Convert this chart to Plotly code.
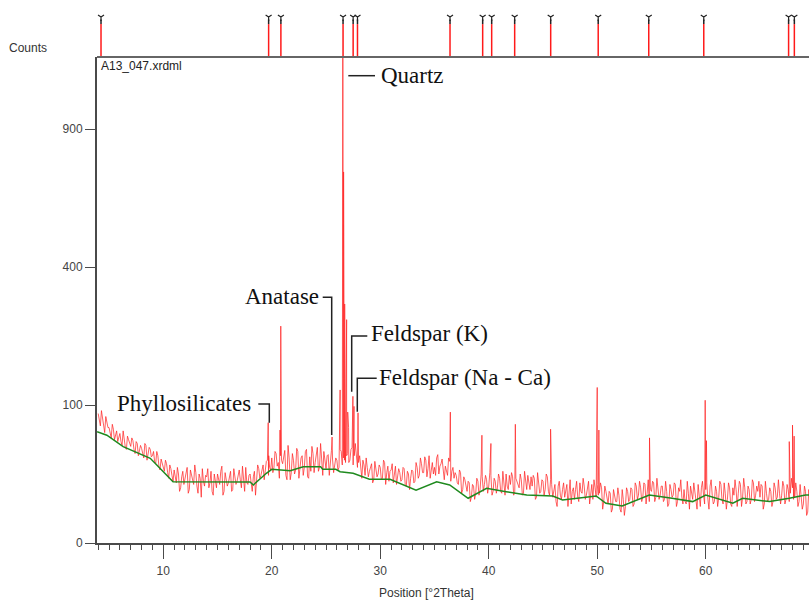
import numpy as np
import plotly.graph_objects as go

# ---------------- data ----------------
# scan counts at 4.0, 4.2, 4.4 ... (even) and 4.1, 4.3, 4.5 ... (odd)
scan_start = 4.0
scan_step = 0.2
scan_counts_even = [
    88, 72, 80, 64, 76,   # 4
    70, 58, 68, 62, 54,   # 5
    63, 50, 58, 46, 56,   # 6
    49, 55, 42, 52, 44,   # 7
    47, 38, 50, 41, 46,   # 8
    40, 35, 44, 31, 37,   # 9
    30, 36, 26, 32, 24,   # 10
    28, 19, 25, 16, 27,   # 11
    21, 30, 15, 24, 18,   # 12
    26, 13, 22, 29, 17,   # 13
    23, 16, 27, 12, 21,   # 14
    25, 18, 31, 14, 22,   # 15
    19, 27, 15, 24, 20,   # 16
    28, 16, 23, 30, 18,   # 17
    25, 14, 27, 21, 29,   # 18
    24, 32, 26, 36, 30,   # 19
    38, 30, 42, 34, 40,   # 20
    33, 45, 21, 38, 26,   # 21
    36, 28, 44, 31, 40,   # 22
    30, 46, 22, 27, 42,   # 23
    34, 48, 30, 39, 44,   # 24
    29, 41, 33, 37, 31,   # 25
    36, 30, 44, 38, 34,   # 26
    42, 36, 48, 40, 38,   # 27
    34, 28, 36, 24, 30,   # 28
    27, 33, 21, 29, 25,   # 29
    30, 22, 34, 26, 20,   # 30
    28, 19, 31, 23, 26,   # 31
    21, 29, 17, 25, 22,   # 32
    27, 20, 30, 24, 33,   # 33
    26, 36, 29, 22, 34,   # 34
    30, 38, 25, 33, 28,   # 35
    31, 24, 35, 27, 22,   # 36
    24, 18, 26, 15, 21,   # 37
    14, 19, 11, 17, 13,   # 38
    20, 15, 23, 18, 21,   # 39
    17, 24, 14, 20, 16,   # 40
    22, 13, 19, 25, 15,   # 41
    18, 23, 14, 20, 16,   # 42
    21, 13, 19, 24, 15,   # 43
    17, 22, 11, 19, 14,   # 44
    20, 15, 23, 12, 18,   # 45
    14, 9, 17, 12, 15,    # 46
    11, 18, 13, 8, 16,    # 47
    15, 11, 19, 13, 17,   # 48
    12, 20, 14, 10, 16,   # 49
    18, 13, 16, 9, 14,    # 50
    8, 13, 6, 11, 9,      # 51
    12, 5, 10, 7, 14,     # 52
    10, 15, 8, 17, 12,    # 53
    16, 11, 18, 13, 9,    # 54
    14, 19, 11, 16, 12,   # 55
    17, 10, 14, 8, 15,    # 56
    12, 18, 9, 14, 11,    # 57
    15, 8, 13, 17, 10,    # 58
    13, 6, 11, 16, 12,    # 59
    15, 10, 17, 12, 9,    # 60
    14, 11, 18, 8, 13,    # 61
    10, 16, 7, 12, 15,    # 62
    13, 18, 11, 16, 9,    # 63
    15, 10, 19, 12, 14,   # 64
    11, 17, 8, 13, 10,    # 65
    14, 9, 16, 11, 13,    # 66
    12, 17, 10, 15, 13,   # 67
    16, 11, 14, 9, 12,    # 68
    8, 14, 5, 11, 7,      # 69
]
scan_counts_odd = [
    78, 92, 68, 84, 70,   # 4
    62, 74, 56, 66, 60,   # 5
    54, 66, 48, 60, 52,   # 6
    58, 46, 54, 40, 50,   # 7
    42, 52, 36, 48, 39,   # 8
    44, 33, 40, 28, 34,   # 9
    27, 33, 22, 29, 20,   # 10
    22, 30, 14, 23, 18,   # 11
    26, 13, 28, 20, 32,   # 12
    17, 25, 11, 20, 24,   # 13
    29, 19, 14, 25, 16,   # 14
    20, 27, 12, 26, 17,   # 15
    23, 14, 29, 18, 25,   # 16
    21, 31, 14, 19, 24,   # 17
    18, 23, 12, 32, 22,   # 18
    27, 21, 35, 24, 28,   # 19
    26, 44, 31, 22, 36,   # 20
    40, 24, 50, 21, 42,   # 21
    25, 47, 22, 38, 24,   # 22
    44, 23, 39, 49, 26,   # 23
    43, 27, 52, 24, 36,   # 24
    40, 24, 45, 26, 38,   # 25
    28, 46, 32, 36, 40,   # 26
    34, 46, 32, 52, 30,   # 27
    40, 22, 32, 38, 23,   # 28
    31, 19, 35, 23, 32,   # 29
    21, 36, 18, 31, 27,   # 30
    33, 24, 18, 29, 20,   # 31
    30, 18, 27, 15, 28,   # 32
    19, 34, 22, 38, 26,   # 33
    39, 23, 40, 30, 25,   # 34
    24, 41, 31, 37, 21,   # 35
    26, 38, 20, 30, 26,   # 36
    19, 28, 13, 23, 17,   # 37
    20, 9, 18, 10, 22,    # 38
    12, 25, 14, 24, 13,   # 39
    26, 12, 22, 13, 25,   # 40
    14, 27, 12, 17, 24,   # 41
    26, 12, 22, 17, 25,   # 42
    12, 27, 15, 20, 23,   # 43
    24, 10, 26, 13, 21,   # 44
    12, 25, 14, 21, 11,   # 45
    18, 7, 20, 10, 19,    # 46
    16, 7, 21, 14, 10,    # 47
    20, 9, 14, 22, 10,    # 48
    17, 8, 18, 21, 11,    # 49
    12, 19, 6, 17, 10,    # 50
    14, 5, 15, 9, 16,     # 51
    6, 15, 4, 16, 9,      # 52
    16, 7, 19, 10, 20,    # 53
    9, 19, 8, 21, 15,     # 54
    20, 9, 22, 10, 17,    # 55
    9, 20, 7, 18, 11,     # 56
    19, 7, 16, 21, 8,     # 57
    9, 20, 6, 12, 19,     # 58
    8, 18, 7, 20, 8,      # 59
    19, 6, 21, 8, 17,     # 60
    7, 20, 10, 19, 6,     # 61
    19, 8, 16, 21, 7,     # 62
    20, 7, 22, 8, 17,     # 63
    8, 21, 9, 17, 20,     # 64
    18, 6, 20, 9, 16,     # 65
    7, 19, 10, 21, 8,     # 66
    20, 8, 18, 9, 22,     # 67
    10, 19, 7, 18, 6,     # 68
    17, 4, 15, 3, 13,     # 69
]

peak_pos = [19.67, 19.72, 20.76, 20.83, 20.88, 25.56, 26.30, 26.55, 26.62,
            26.72, 26.90, 27.00, 27.08, 27.48, 27.58, 27.95, 36.46, 39.37,
            40.20, 42.45, 45.70, 50.00, 50.15, 54.82, 59.95, 60.07, 67.70,
            68.00, 68.15]
peak_counts = [76, 40, 67, 247, 60, 59, 123, 1400, 723,
               300, 262, 90, 70, 113, 98, 89, 90, 61,
               52, 74, 68, 127, 67, 58, 107, 55, 54,
               73, 60]

bg_pos = [3.9, 4.8, 6.3, 7.85, 8.8, 9.4, 10.9, 18.0, 18.3, 19.5, 20.0, 21.7,
          22.9, 24.5, 24.7, 25.9, 26.3, 27.5, 29.0, 30.9, 33.3, 35.2, 36.4,
          38.1, 39.8, 41.6, 43.5, 45.9, 46.8, 49.9, 50.8, 52.3, 54.8, 56.9,
          58.8, 60.0, 62.5, 63.4, 65.9, 67.7, 69.2, 69.6]
bg_counts = [65, 61, 48.7, 41.6, 37.7, 32, 19.7, 19.5, 17.7, 25.5, 28.5, 27.5,
             30.6, 30.6, 28.5, 28.5, 26.7, 25.5, 21.3, 21.3, 14.7, 19.7, 17.7,
             10.5, 15.7, 13.8, 12.1, 11.6, 9.7, 11.6, 8.3, 7.2, 12.1, 10.5,
             9.0, 12.1, 8.3, 10.5, 9.0, 10.5, 12.1, 12.1]

ref_pos = [4.26, 19.71, 20.84, 26.57, 27.50, 27.90, 36.43, 39.44, 40.27,
           42.39, 45.71, 50.09, 54.75, 59.82, 67.64, 68.17]

y_ticks = [0, 100, 400, 900]
labels = ["Quartz", "Anatase", "Feldspar (K)", "Feldspar (Na - Ca)", "Phyllosilicates"]

# ---------------- build ----------------
pos_even = scan_start + scan_step * np.arange(len(scan_counts_even))
pos_odd = scan_start + scan_step / 2 + scan_step * np.arange(len(scan_counts_odd))
all_pos = np.concatenate([pos_even, pos_odd, peak_pos])
all_cnt = np.concatenate([scan_counts_even, scan_counts_odd, peak_counts]).astype(float)
order = np.argsort(all_pos)
all_pos, all_cnt = all_pos[order], all_cnt[order]

X0, X1 = 3.89, 69.52
PX_L, PX_R = 97, 809
PY_B, PY_T = 543, 57
SQ_PER_PX = 1 / 13.8
Y1 = (PY_B - PY_T) * SQ_PER_PX
FIG_T = 10
H = 601
total_h = PY_B - FIG_T
main_top = (PY_B - PY_T) / total_h


def px2x(px):
    return X0 + (px - PX_L) * (X1 - X0) / (PX_R - PX_L)


def py2y(py):
    return (PY_B - py) * SQ_PER_PX


fig = go.Figure()
fig.add_trace(go.Scatter(x=all_pos, y=np.sqrt(all_cnt), mode="lines",
                         line=dict(color="rgba(255,35,35,0.72)", width=1),
                         xaxis="x", yaxis="y", showlegend=False))
fig.add_trace(go.Scatter(x=bg_pos, y=np.sqrt(bg_counts), mode="lines",
                         line=dict(color="#1f8a1f", width=1.5),
                         xaxis="x", yaxis="y", showlegend=False))

# reference pattern lines in the top panel
rx, ry = [], []
for p in ref_pos:
    rx += [p, p, None]
    ry += [0, 0.70, None]
fig.add_trace(go.Scatter(x=rx, y=ry, mode="lines", line=dict(color="#ff1a1a", width=1.5),
                         xaxis="x2", yaxis="y2", showlegend=False))
sx, sy = [], []
for p in ref_pos:
    sx += [p, p, None]
    sy += [0.70, 0.80, None]
fig.add_trace(go.Scatter(x=sx, y=sy, mode="lines", line=dict(color="#222", width=1.5),
                         xaxis="x2", yaxis="y2", showlegend=False))
fig.add_trace(go.Scatter(x=ref_pos, y=[0.85] * len(ref_pos), mode="markers",
                         marker=dict(symbol="y-down-open", size=5,
                                     line=dict(color="#222", width=1.2), color="#222"),
                         xaxis="x2", yaxis="y2", showlegend=False))

axis_col = "#4a4a4a"
tick_font = dict(family="Liberation Sans, Arial", size=12, color="#444")

fig.update_layout(
    width=809, height=H,
    margin=dict(l=PX_L, r=0, t=FIG_T, b=H - PY_B),
    paper_bgcolor="white", plot_bgcolor="white",
    xaxis=dict(range=[X0, X1], domain=[0, 1], anchor="y",
               tick0=0, dtick=10, ticks="outside", ticklen=14, tickwidth=1.2,
               tickcolor=axis_col,
               minor=dict(dtick=1, tick0=0, ticks="outside", ticklen=5,
                          tickcolor=axis_col, tickwidth=1),
               showline=True, linecolor=axis_col, linewidth=2,
               showgrid=False, zeroline=False, tickfont=tick_font,
               ticklabelstandoff=2),
    yaxis=dict(range=[0, Y1], domain=[0, main_top], anchor="x",
               tickvals=np.sqrt(y_ticks), ticktext=[str(v) for v in y_ticks],
               ticks="outside", ticklen=10, tickwidth=1.2, tickcolor=axis_col,
               showline=True, linecolor=axis_col, linewidth=2,
               showgrid=False, zeroline=False, tickfont=tick_font),
    xaxis2=dict(range=[X0, X1], domain=[0, 1], anchor="y2", visible=False),
    yaxis2=dict(range=[0, 1], domain=[main_top, 1], anchor="x2", visible=False),
)

# top frame line of the main plot
fig.add_shape(type="line", xref="paper", yref="paper", x0=0, x1=1,
              y0=main_top, y1=main_top, line=dict(color="#666", width=2), layer="above")

# texts
fig.add_annotation(text="A13_047.xrdml", xref="paper", yref="paper",
                   x=(99 - PX_L) / (PX_R - PX_L), y=(PY_B - 66) / total_h,
                   xanchor="left", yanchor="middle", showarrow=False,
                   font=dict(family="Liberation Sans, Arial", size=12, color="#222"))
fig.add_annotation(text="Counts", xref="paper", yref="paper",
                   x=(7 - PX_L) / (PX_R - PX_L), y=(PY_B - 48) / total_h,
                   xanchor="left", yanchor="middle", showarrow=False,
                   font=dict(family="Liberation Sans, Arial", size=12, color="#333"))
fig.add_annotation(text="Position [°2Theta]", xref="x", yref="paper",
                   x=px2x(426), y=(PY_B - 593) / total_h,
                   xanchor="center", yanchor="middle", showarrow=False,
                   font=dict(family="Liberation Sans, Arial", size=12, color="#333"))

label_px = [(379, 75), (242.5, 296), (369, 333.5), (376.5, 377), (115, 403)]
for txt, (lx, ly) in zip(labels, label_px):
    fig.add_annotation(text=txt, xref="x", yref="y", x=px2x(lx), y=py2y(ly),
                       xanchor="left", yanchor="middle", showarrow=False,
                       font=dict(family="Liberation Serif, Times New Roman", size=23, color="#111"))

leaders = [
    [(348.3, 75.7), (375, 75.7)],
    [(322.7, 297.3), (331.7, 297.3), (331.7, 435)],
    [(367.3, 336), (351.7, 336), (351.7, 391.7)],
    [(376.7, 378.3), (357.3, 378.3), (357.3, 411.7)],
    [(258.3, 404), (269.3, 404), (269.3, 422.7)],
]
for pts in leaders:
    path = "M " + " L ".join(f"{px2x(a):.4f},{py2y(b):.4f}" for a, b in pts)
    fig.add_shape(type="path", xref="x", yref="y", path=path,
                  line=dict(color="#222", width=1.5), layer="above")

fig.write_html("out.html", config={"displayModeBar": False},
               post_script="document.body.style.margin='0px';document.body.style.overflow='hidden';")
